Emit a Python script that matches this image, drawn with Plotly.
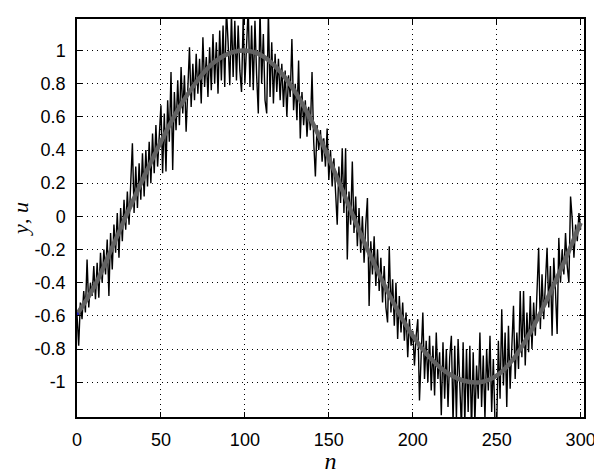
import plotly.graph_objects as go

# smooth reference signal u, read every 10 samples
n_smooth = list(range(0, 301, 10))
u_smooth = [-0.59, -0.43, -0.21, 0.02, 0.24, 0.45, 0.64, 0.795, 0.915, 0.98,
            1.00, 0.97, 0.885, 0.75, 0.57, 0.35, 0.11, -0.13, -0.35, -0.55,
            -0.72, -0.85, -0.94, -0.99, -1.00, -0.96, -0.86, -0.70, -0.50,
            -0.28, -0.04]

# noisy measured signal y, one value per sample n = 0..300
y_noisy = [
    -0.59, -0.78, -0.52, -0.62, -0.45, -0.58, -0.26, -0.55, -0.40, -0.48,
    -0.30, -0.50, -0.28, -0.49, -0.22, -0.40, -0.20, -0.35, -0.14, -0.48,
    -0.10, -0.32, -0.05, -0.22, 0.02, -0.25, 0.05, -0.15, 0.10, -0.08,
    0.15, -0.05, 0.20, 0.44, 0.02, 0.30, 0.05, 0.32, 0.10, 0.38,
    0.12, 0.40, 0.18, 0.45, 0.20, 0.50, 0.26, 0.55, 0.30, 0.48,
    0.67, 0.26, 0.62, 0.27, 0.70, 0.45, 0.87, 0.28, 0.75, 0.52,
    0.82, 0.55, 0.90, 0.62, 0.85, 0.51, 0.80, 1.02, 0.66, 0.92,
    0.70, 0.98, 0.74, 0.95, 0.68, 1.08, 0.78, 0.96, 0.72, 1.02,
    0.76, 1.10, 0.80, 1.05, 0.74, 1.12, 0.82, 1.15, 0.78, 1.25,
    1.05, 0.79, 1.22, 0.84, 1.18, 0.82, 1.15, 0.88, 0.75, 1.20,
    0.80, 1.12, 1.26, 0.78, 1.15, 0.76, 1.18, 0.85, 0.62, 1.25,
    0.80, 1.10, 0.70, 0.62, 1.24, 0.72, 1.05, 0.68, 0.98, 0.75,
    0.95, 0.70, 0.92, 0.66, 0.88, 0.60, 0.85, 0.72, 1.07, 0.64,
    0.80, 0.58, 0.94, 0.47, 0.75, 0.55, 0.70, 0.48, 0.66, 0.52,
    0.87, 0.45, 0.24, 0.55, 0.40, 0.52, 0.33, 0.47, 0.30, 0.53,
    0.22, 0.40, 0.18, 0.35, 0.12, -0.05, 0.30, 0.08, 0.41, 0.02,
    0.41, -0.26, 0.15, -0.05, 0.33, -0.10, 0.12, -0.18, 0.05, -0.22,
    0.00, -0.28, -0.05, 0.11, -0.54, -0.15, -0.35, -0.12, -0.42, -0.20,
    -0.45, -0.25, -0.52, -0.30, -0.55, -0.64, -0.18, -0.58, -0.38, -0.66,
    -0.40, -0.74, -0.48, -0.70, -0.52, -0.75, -0.58, -0.85, -0.62, -0.78,
    -0.69, -0.90, -0.72, -0.62, -1.11, -0.82, -0.58, -0.98, -0.75, -1.00,
    -0.72, -1.05, -0.78, -1.08, -0.70, -0.98, -0.82, -1.20, -0.76, -1.10,
    -0.80, -1.15, -0.85, -0.72, -1.25, -0.78, -1.22, -0.74, -1.05, -1.28,
    -0.76, -1.25, -0.80, -1.18, -0.78, -1.30, -0.82, -1.24, -0.90, -1.10,
    -0.70, -1.15, -0.84, -1.22, -0.80, -1.05, -0.72, -1.18, -0.86, -1.25,
    -1.28, -0.75, -1.10, -0.56, -1.02, -0.70, -1.15, -0.66, -1.04, -0.72,
    -0.54, -0.98, -0.70, -0.92, -0.45, -0.85, -0.45, -0.90, -0.58, -0.82,
    -0.48, -0.80, -0.52, -0.72, -0.40, -0.19, -0.68, -0.35, -0.62, -0.42,
    -0.19, -0.55, -0.30, -0.72, -0.25, -0.45, -0.71, -0.13, -0.40, -0.20,
    -0.35, -0.10, -0.30, -0.40, 0.12, -0.02, -0.25, -0.05, -0.15, 0.02, -0.08,
]
n_noisy = list(range(len(y_noisy)))

x_ticks = [0, 50, 100, 150, 200, 250, 300]
y_ticks = [-1, -0.8, -0.6, -0.4, -0.2, 0, 0.2, 0.4, 0.6, 0.8, 1]
y_tick_labels = ["-1", "-0.8", "-0.6", "-0.4", "-0.2", "0", "0.2", "0.4", "0.6", "0.8", "1"]

fig = go.Figure()
fig.add_trace(go.Scatter(x=n_noisy, y=y_noisy, mode="lines",
                         line=dict(color="black", width=1.4), showlegend=False))
fig.add_trace(go.Scatter(x=n_smooth, y=u_smooth, mode="lines",
                         line=dict(color="#626262", width=4.5, shape="spline"),
                         showlegend=False))
fig.add_trace(go.Scatter(x=[n_noisy[0]], y=[y_noisy[0]], mode="markers",
                         marker=dict(color="#2020c0", size=4), showlegend=False))

axis_common = dict(
    showline=True, linecolor="black", linewidth=1.5, mirror="allticks",
    ticks="inside", ticklen=5, tickcolor="black", tickwidth=1,
    showgrid=True, gridcolor="black", gridwidth=1, griddash="1px,4px",
    zeroline=False, automargin=False,
    tickfont=dict(family="Liberation Sans, Arial", size=18, color="black"),
)

fig.update_xaxes(range=[0, 302], tickvals=x_ticks, ticktext=[str(v) for v in x_ticks],
                 title=dict(text="<i>n</i>", font=dict(family="Liberation Serif", size=24, color="black"),
                            standoff=4),
                 ticklabelstandoff=6, **axis_common)
fig.update_yaxes(range=[-1.21, 1.19], tickvals=y_ticks, ticktext=y_tick_labels,
                 title=dict(text="<i>y</i>, <i>u</i>", font=dict(family="Liberation Serif", size=22, color="black"),
                            standoff=0),
                 ticklabelstandoff=6, **axis_common)

# the page adds an 8px body margin, so the figure is 8px smaller than the window
fig.update_layout(
    width=594, height=466,
    margin=dict(l=69, r=18, t=11, b=57),
    paper_bgcolor="white", plot_bgcolor="white",
)

fig.write_html("out.html")
